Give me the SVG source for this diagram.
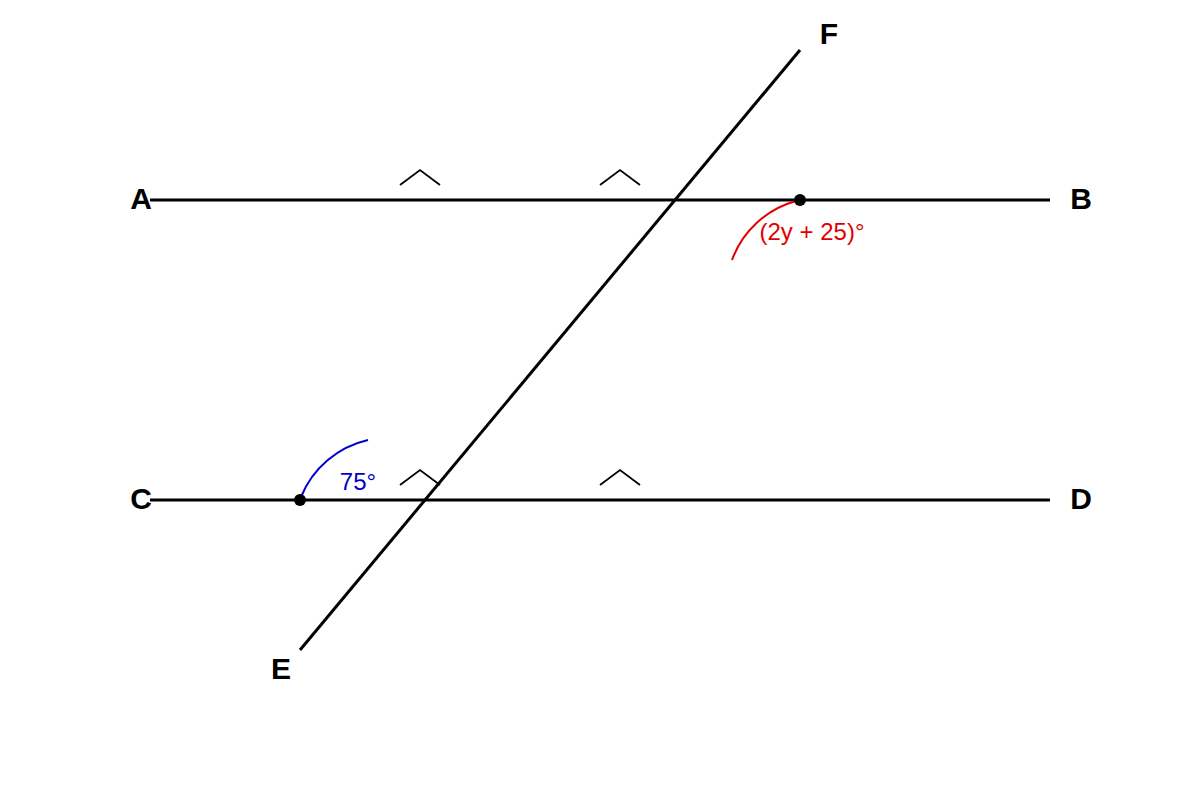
<svg xmlns="http://www.w3.org/2000/svg" width="1200" height="800" viewBox="0 0 1200 800">
<style>
.ln{stroke:#000;stroke-width:3;fill:none}
.tick{stroke:#000;stroke-width:1.8;fill:none}
.lbl{font-family:"Liberation Sans",Arial,sans-serif;font-weight:bold;font-size:30px;fill:#000;text-anchor:middle;dominant-baseline:central}
.ang{font-family:"Liberation Sans",Arial,sans-serif;font-size:24px;text-anchor:middle;dominant-baseline:central}
</style>
<rect width="1200" height="800" fill="#fff"/>
<g id="connectors">
<line class="ln" x1="150" y1="200" x2="1050" y2="200"/>
<line class="ln" x1="150" y1="500" x2="1050" y2="500"/>
<line class="ln" x1="300" y1="650" x2="800" y2="50"/>
<polyline class="tick" points="400,185 420,170 440,185"/>
<polyline class="tick" points="600,185 620,170 640,185"/>
<polyline class="tick" points="400,485 420,470 440,485"/>
<polyline class="tick" points="600,485 620,470 640,485"/>
</g>
<g id="angleB">
<path d="M796,201 A95,95 0 0 0 732,260" stroke="#e00000" stroke-width="2" fill="none"/>
<circle cx="800" cy="200" r="6" fill="#000"/>
<text class="ang" x="812" y="231" fill="#e00000">(2y + 25)°</text>
</g>
<g id="angleC">
<path d="M301,497 A95,95 0 0 1 368,440" stroke="#0000cc" stroke-width="2" fill="none"/>
<circle cx="300" cy="500" r="6" fill="#000"/>
<text class="ang" x="358" y="481" fill="#0000cc">75°</text>
</g>
<g id="A"><text class="lbl" x="141" y="198">A</text></g>
<g id="B"><text class="lbl" x="1081" y="198">B</text></g>
<g id="C"><text class="lbl" x="141" y="498">C</text></g>
<g id="D"><text class="lbl" x="1081" y="498">D</text></g>
<g id="E"><text class="lbl" x="281" y="668">E</text></g>
<g id="F"><text class="lbl" x="829" y="33">F</text></g>
</svg>
